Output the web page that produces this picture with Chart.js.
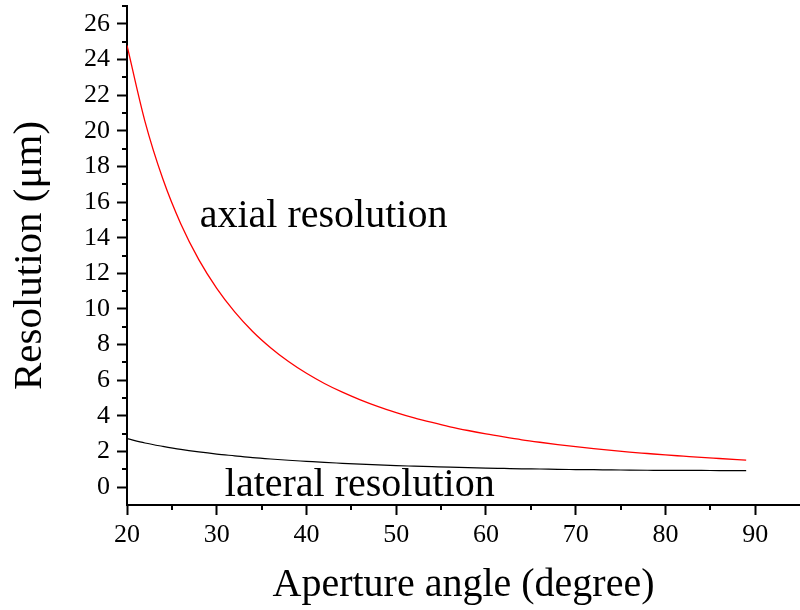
<!DOCTYPE html>
<html>
<head>
<meta charset="utf-8">
<script src="https://cdn.jsdelivr.net/npm/chart.js@4"></script>
<style>
  html, body { margin: 0; padding: 0; background: #fff; }
  #wrap { width: 800px; height: 610px; }
</style>
</head>
<body>
<div id="wrap"><canvas id="myChart" width="800" height="610"></canvas></div>
<script>
// aperture angle in degrees
var angles = [20, 22, 24, 26, 28, 30, 32, 34, 36, 38, 40, 42, 44, 46, 48, 50, 52, 54,
    56, 58, 60, 62, 64, 66, 68, 70, 72, 74, 76, 78, 80, 82, 84, 86, 88, 89];
// resolution in micrometres
var axialRes = [24.79, 20.53, 17.29, 14.77, 12.77, 11.16, 9.84, 8.74, 7.83, 7.05, 6.39, 5.82,
    5.33, 4.90, 4.52, 4.19, 3.89, 3.63, 3.39, 3.18, 2.99, 2.82, 2.66, 2.52, 2.39, 2.27,
    2.16, 2.06, 1.97, 1.89, 1.81, 1.74, 1.67, 1.61, 1.55, 1.52];
var lateralRes = [2.72, 2.48, 2.29, 2.12, 1.98, 1.86, 1.76, 1.66, 1.58, 1.51, 1.45, 1.39,
    1.34, 1.29, 1.25, 1.21, 1.18, 1.15, 1.12, 1.10, 1.07, 1.05, 1.03, 1.02, 1.00, 0.99,
    0.98, 0.97, 0.96, 0.95, 0.94, 0.94, 0.94, 0.93, 0.93, 0.93];

var xTicks = [20, 30, 40, 50, 60, 70, 80, 90];
var xMinor = [25, 35, 45, 55, 65, 75, 85];
var yTicks = [0, 2, 4, 6, 8, 10, 12, 14, 16, 18, 20, 22, 24, 26];
var yMinor = [1, 3, 5, 7, 9, 11, 13, 15, 17, 19, 21, 23, 25, 27];

// curve labels, placed in data units (left edge, vertical middle)
var curveLabels = [
    { text: 'axial resolution', x: 28.1, y: 15.2 },
    { text: 'lateral resolution', x: 30.9, y: 0.1 }
];

var serif = '"Liberation Serif", "Times New Roman", serif';

function toPoints(xs, ys) {
    return xs.map(function (x, i) { return { x: x, y: ys[i] }; });
}

// minor tick marks and the two curve captions
var extras = {
    id: 'extras',
    afterDraw: function (chart) {
        var c = chart.ctx, xs = chart.scales.x, ys = chart.scales.y;
        var area = chart.chartArea;
        c.save();
        c.strokeStyle = '#000';
        c.lineWidth = 2;
        c.beginPath();
        xMinor.forEach(function (v) {
            var px = Math.round(xs.getPixelForValue(v));
            c.moveTo(px, area.bottom);
            c.lineTo(px, area.bottom + 5);
        });
        yMinor.forEach(function (v) {
            var py = Math.round(ys.getPixelForValue(v));
            c.moveTo(area.left, py);
            c.lineTo(area.left - 5, py);
        });
        c.stroke();

        c.fillStyle = '#000';
        c.font = '40px ' + serif;
        c.textAlign = 'left';
        c.textBaseline = 'middle';
        curveLabels.forEach(function (l) {
            c.fillText(l.text, xs.getPixelForValue(l.x), ys.getPixelForValue(l.y));
        });
        c.restore();
    }
};

var ctx = document.getElementById('myChart').getContext('2d');
var myChart = new Chart(ctx, {
    type: 'line',
    data: {
        datasets: [{
                label: 'axial resolution',
                data: toPoints(angles, axialRes),
                borderColor: 'rgb(255, 0, 0)',
                borderWidth: 1.3,
                pointRadius: 0,
                cubicInterpolationMode: 'monotone',
                fill: false
            },
            {
                label: 'lateral resolution',
                data: toPoints(angles, lateralRes),
                borderColor: 'rgb(0, 0, 0)',
                borderWidth: 1.2,
                pointRadius: 0,
                cubicInterpolationMode: 'monotone',
                fill: false
            }
        ]
    },
    options: {
        responsive: false,
        animation: false,
        layout: { padding: { top: 6, right: 0, left: 0, bottom: 0 } },
        plugins: {
            legend: { display: false },
            tooltip: { enabled: false }
        },
        scales: {
            x: {
                type: 'linear',
                position: 'bottom',
                min: 20,
                max: 95,
                afterBuildTicks: function (s) {
                    s.ticks = xTicks.map(function (v) { return { value: v }; });
                },
                afterFit: function (s) {
                    s.height = 105;
                    s.paddingLeft = 0;
                    s.paddingRight = 0;
                },
                grid: {
                    drawOnChartArea: false,
                    tickLength: 10,
                    tickWidth: 2,
                    tickColor: '#000'
                },
                border: { color: '#000', width: 2 },
                ticks: {
                    color: '#000',
                    padding: 5,
                    maxRotation: 0,
                    font: { family: serif, size: 26 }
                },
                title: {
                    display: true,
                    text: 'Aperture angle (degree)',
                    color: '#000',
                    font: { family: serif, size: 40 },
                    padding: { top: 0, bottom: 1 }
                }
            },
            y: {
                type: 'linear',
                min: -1,
                max: 27,
                afterBuildTicks: function (s) {
                    s.ticks = yTicks.map(function (v) { return { value: v }; });
                },
                afterFit: function (s) {
                    s.width = 127;
                    s.paddingTop = 0;
                    s.paddingBottom = 0;
                },
                grid: {
                    drawOnChartArea: false,
                    tickLength: 10,
                    tickWidth: 2,
                    tickColor: '#000'
                },
                border: { color: '#000', width: 2 },
                ticks: {
                    color: '#000',
                    padding: 7,
                    font: { family: serif, size: 26 }
                },
                title: {
                    display: true,
                    text: 'Resolution (μm)',
                    color: '#000',
                    font: { family: serif, size: 41 },
                    padding: { top: 6, bottom: 0 }
                }
            }
        }
    },
    plugins: [extras]
});
</script>
</body>
</html>
